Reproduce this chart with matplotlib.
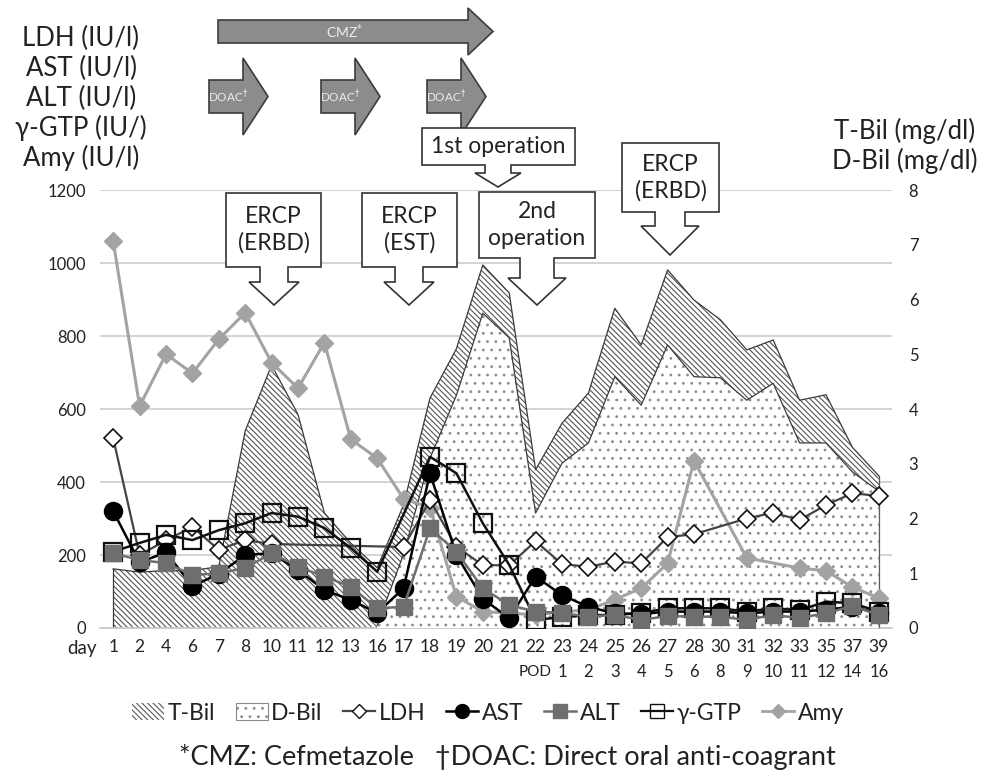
import numpy as np
import matplotlib
matplotlib.use("Agg")
import matplotlib.pyplot as plt
from matplotlib.patches import Polygon, Patch
from matplotlib.lines import Line2D
import matplotlib.transforms as mtransforms

plt.rcParams['font.family'] = ['Lato', 'DejaVu Sans']
plt.rcParams['hatch.linewidth'] = 0.8

# ---------------- data ----------------
days = ['1', '2', '4', '6', '7', '8', '10', '11', '12', '13', '16', '17', '18', '19', '20',
        '21', '22', '23', '24', '25', '26', '27', '28', '30', '31', '32', '33', '35', '37', '39']
pod = [''] * 16 + ['POD', '1', '2', '3', '4', '5', '6', '8', '9', '10', '11', '12', '14', '16']

t_bil = [1.08, 1.02, 1.05, 1.05, 1.12, 3.6, 4.8, 3.9, 2.1, 1.55, 1.1, 2.25, 4.2, 5.1, 6.63,
         6.12, 2.89, 3.74, 4.29, 5.84, 5.17, 6.54, 5.99, 5.63, 5.08, 5.26, 4.16, 4.26, 3.3, 2.78]
d_bil = [None] * 10 + [0.05, 1.35, 3.1, 4.25, 5.75, 5.30, 2.10, 3.01, 3.38, 4.59, 4.07, 5.17,
                       4.59, 4.57, 4.16, 4.47, 3.38, 3.38, 2.85, 2.50]
ldh = [520, 200, 240, 277, 214, 241, 230, None, None, None, None, 222, 350, 223, 172,
       172, 238, 175, 168, 182, 177, 249, 257, None, 300, 316, 296, 337, 369, 362]
ast = [320, 180, 207, 115, 148, 200, 205, 159, 104, 77, 41, 109, 424, 200, 80,
       27, 141, 90, 58, 40, 38, 45, 45, 45, 40, 45, 45, 50, 58, 40]
alt = [205, 186, 178, 145, 150, 164, 205, 168, 141, 113, 54, 58, 273, 209, 109,
       63, 45, 41, 31, 36, 22, 33, 31, 31, 22, 36, 27, 41, 60, 36]
ggtp = [209, 233, 255, 241, 268, 287, 315, 305, 274, 219, 154, None, 469, 424, 287,
        173, 22, 30, 35, 36, 41, 54, 54, 54, 45, 54, 49, 72, 68, 45]
amy = [1060, 608, 750, 698, 791, 864, 727, 657, 782, 517, 465, 354, 330, 86, 45,
       41, 36, 45, 49, 78, 109, 177, 458, None, 192, None, 164, 157, 112, 82]

left_ticks = [0, 200, 400, 600, 800, 1000, 1200]
right_ticks = [0, 1, 2, 3, 4, 5, 6, 7, 8]

# ---------------- figure ----------------
W, H = 990, 782
fig = plt.figure(figsize=(W / 100, H / 100), dpi=100)
L, R, T, B = 100, 892, 190, 628
ax2 = fig.add_axes([L / W, 1 - B / H, (R - L) / W, (B - T) / H])
ax = ax2.twinx()
ax.yaxis.tick_left()
ax2.yaxis.tick_right()
ax.set_zorder(ax2.get_zorder() + 1)
ax.patch.set_visible(False)

x = np.arange(len(days))

def arr(v):
    return np.array([np.nan if a is None else a for a in v], dtype=float)

# areas on right axis
ax2.set_ylim(0, 8)
ax2.set_xlim(-0.5, len(days) - 0.5)
for v in left_ticks[1:]:
    ax2.axhline(v * right_ticks[-1] / left_ticks[-1], color='#d0d0d0', lw=1.3, zorder=0)

tb = arr(t_bil)
ax2.fill_between(x, 0, tb, facecolor='white', edgecolor='#555555', hatch='\\\\\\\\\\\\',
                 linewidth=0, zorder=1)
ax2.plot(x, tb, color='#3a3a3a', lw=0.9, zorder=2)
ax2.plot([x[0], x[0]], [0, tb[0]], color='#3a3a3a', lw=0.9, zorder=2)

db = arr(d_bil)
m = ~np.isnan(db)
ax2.fill_between(x[m], 0, db[m], facecolor='white', edgecolor='#8c8c8c', hatch='..',
                 linewidth=0, zorder=3)
ax2.plot(x[m], db[m], color='#3a3a3a', lw=0.9, zorder=4)
ax2.plot([x[m][-1], x[m][-1]], [0, db[m][-1]], color='#5a5a5a', lw=0.9, zorder=4)
ax2.plot([x[-1], x[-1]], [db[m][-1], tb[-1]], color='#5a5a5a', lw=0.9, zorder=4)

# lines on left axis
ax.set_ylim(0, 1200)
ax.set_xlim(-0.5, len(days) - 0.5)

def line(vals, **kw):
    a = arr(vals)
    mm = ~np.isnan(a)
    ax.plot(x[mm], a[mm], **kw)

line(amy, color='#a3a3a3', lw=2.2, marker='D', ms=9, mfc='#a3a3a3', mec='#a3a3a3', zorder=5)
line(ldh, color='#444444', lw=1.6, marker='D', ms=9, mfc='white', mec='#111111', mew=1.2, zorder=6)
line(ggtp, color='#111111', lw=1.8, marker='s', ms=13, mfc='none', mec='#111111', mew=1.6, zorder=7)
line(ast, color='#000000', lw=1.8, marker='o', ms=13, mfc='#000000', mec='#000000', zorder=8)
line(alt, color='#6e6e6e', lw=1.8, marker='s', ms=12, mfc='#6e6e6e', mec='#6e6e6e', zorder=9)

# axes styling
for a in (ax, ax2):
    for s in a.spines.values():
        s.set_visible(False)
ax2.spines['bottom'].set_visible(True)
ax2.spines['bottom'].set_color('#c8c8c8')
ax2.spines['bottom'].set_linewidth(1.3)
ax.set_yticks(left_ticks)
ax.set_yticklabels([str(t) for t in left_ticks])
ax2.set_yticks(right_ticks)
ax2.set_yticklabels([str(t) for t in right_ticks])
ax.tick_params(axis='y', length=0, labelsize=12, pad=10, colors='#222222')
ax2.tick_params(axis='y', length=0, labelsize=12, pad=12, colors='#222222')
ax2.set_xticks(x)
ax2.set_xticklabels(days)
ax2.tick_params(axis='x', length=0, labelsize=12.5, pad=8, colors='#222222')
ax.xaxis.set_visible(False)

trans = mtransforms.blended_transform_factory(ax2.transData, ax2.transAxes)
for i, p in enumerate(pod):
    if p:
        ax2.text(x[i], -0.100, p, transform=trans, ha='center', va='center',
                 fontsize=11 if p == 'POD' else 12, color='#222222')
ax2.text(-1.2, -0.046, 'day', transform=trans, ha='center', va='center', fontsize=13.5,
         color='#222222')

# ---------------- overlay annotations (pixel coords) ----------------
ov = fig.add_axes([0, 0, 1, 1], zorder=20)
ov.set_xlim(0, W)
ov.set_ylim(H, 0)
ov.axis('off')
ov.patch.set_visible(False)

def right_arrow(x0, x1, xt, by0, by1, hy0, hy1):
    yc = (hy0 + hy1) / 2
    pts = [(x0, by0), (x1, by0), (x1, hy0), (xt, yc), (x1, hy1), (x1, by1), (x0, by1)]
    ov.add_patch(Polygon(pts, closed=True, facecolor='#8c8c8c', edgecolor='#3c3c3c', lw=1.2))

right_arrow(218, 468, 493, 20, 43, 8, 55)
ov.text(345, 32, 'CMZ$^{*}$', ha='center', va='center', fontsize=10, color='#eeeeee')
for bx in (209, 321, 427):
    right_arrow(bx, bx + 34, bx + 59, 80, 113, 58, 135)
    ov.text(bx + 19, 97, 'DOAC$^{\\dagger}$', ha='center', va='center', fontsize=8.5,
            color='#eeeeee')

def callout(x0, x1, y0, y1, xc, sw, hw, yh, yt, txt):
    pts = [(x0, y0), (x1, y0), (x1, y1), (xc + sw, y1), (xc + sw, yh), (xc + hw, yh),
           (xc, yt), (xc - hw, yh), (xc - sw, yh), (xc - sw, y1), (x0, y1)]
    ov.add_patch(Polygon(pts, closed=True, facecolor='white', edgecolor='#333333', lw=1.2))
    ov.text((x0 + x1) / 2, (y0 + y1) / 2, txt, ha='center', va='center', fontsize=16.5,
            color='#222222', linespacing=1.3)

callout(226, 321, 193, 267, 274, 14, 25, 282, 305, 'ERCP\n(ERBD)')
callout(362, 457, 193, 267, 409, 14, 25, 282, 305, 'ERCP\n(EST)')
callout(422, 575, 128, 165, 498, 13, 23, 173, 187, '1st operation')
callout(479, 595, 192, 258, 537, 17, 29, 278, 305, '2nd\noperation')
callout(622, 719, 143, 212, 670, 15, 29, 226, 255, 'ERCP\n(ERBD)')

# axis title texts
for i, s in enumerate(['LDH (IU/l)', 'AST (IU/l)', 'ALT (IU/l)', 'γ-GTP (IU/)', 'Amy (IU/l)']):
    ov.text(81, 38 + 30 * i, s, ha='center', va='center', fontsize=18.5, color='#222222')
ov.text(905, 131, 'T-Bil (mg/dl)', ha='center', va='center', fontsize=18.5, color='#222222')
ov.text(905, 161, 'D-Bil (mg/dl)', ha='center', va='center', fontsize=18.5, color='#222222')

# ---------------- legend ----------------
handles = [
    Patch(facecolor='white', edgecolor='#5a5a5a', hatch='\\\\\\\\\\\\', lw=0),
    Patch(facecolor='white', edgecolor='#8a8a8a', hatch='..', lw=0.8),
    Line2D([], [], color='#444444', lw=1.6, marker='D', ms=7, mfc='white', mec='#111111'),
    Line2D([], [], color='#000000', lw=1.8, marker='o', ms=10, mfc='#000000'),
    Line2D([], [], color='#6e6e6e', lw=1.8, marker='s', ms=10, mfc='#6e6e6e', mec='#6e6e6e'),
    Line2D([], [], color='#111111', lw=1.6, marker='s', ms=10, mfc='none', mec='#111111'),
    Line2D([], [], color='#a3a3a3', lw=2, marker='D', ms=7, mfc='#a3a3a3', mec='#a3a3a3'),
]
labels = ['T-Bil', 'D-Bil', 'LDH', 'AST', 'ALT', 'γ-GTP', 'Amy']
fig.legend(handles, labels, loc='center', bbox_to_anchor=(488 / W, 1 - 713 / H), ncol=7,
           frameon=False, fontsize=16.5, handlelength=1.4, handletextpad=0.15,
           columnspacing=0.9, labelcolor='#222222')

fig.text(507 / W, 1 - 757 / H, '*CMZ: Cefmetazole   †DOAC: Direct oral anti-coagrant',
         ha='center', va='center', fontsize=19.5, color='#222222')

fig.savefig('out.png', dpi=100)
